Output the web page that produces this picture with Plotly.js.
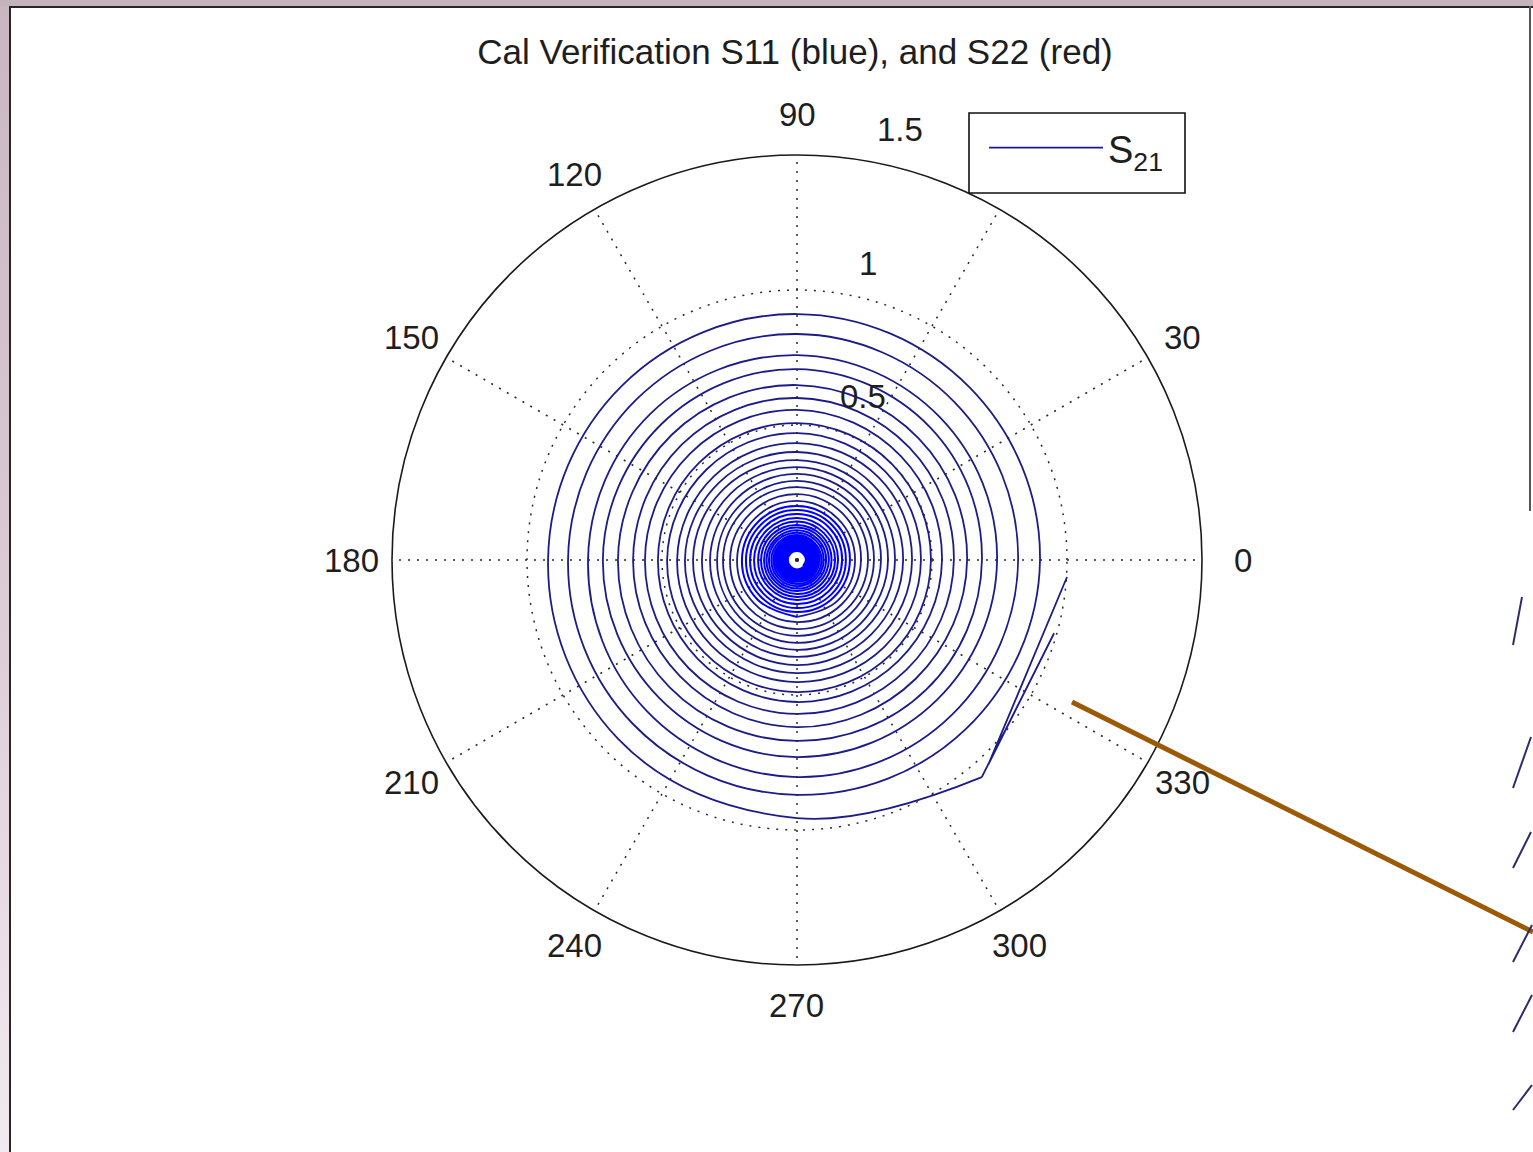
<!DOCTYPE html>
<html>
<head>
<meta charset="utf-8">
<script src="https://cdn.plot.ly/plotly-3.0.1.min.js"></script>
<style>
  html, body { margin: 0; padding: 0; width: 1533px; height: 1152px; overflow: hidden;
    background: linear-gradient(180deg, #c9b6c0 0%, #d9c8d1 45%, #f2eaee 100%); }
  #topstrip { position: absolute; left: 0; top: 0; width: 1533px; height: 6px; background: #c3b3bb; }
  #sheet { position: absolute; left: 9px; top: 6px; width: 1524px; height: 1146px; background: #ffffff;
    border-left: 2px solid #262626; border-top: 2px solid #262626; box-sizing: border-box; }
  #rightedge { position: absolute; left: 1529px; top: 6px; width: 2px; height: 505px; background: #555; }
  #chart { position: absolute; left: 0; top: 0; width: 1533px; height: 1152px; }
</style>
</head>
<body>
<div id="topstrip"></div>
<div id="sheet"></div>
<div id="rightedge"></div>
<div id="chart"></div>
<script>
// S21 sweep, linear magnitude. The first samples are coarse steps
// near |S21| = 1, then the sweep winds inward clockwise.
const leadMag   = [1.002, 1.038, 0.990, 1.056];
const leadPhase = [-3.6, -47.0, -15.9, -49.6];

// Outer turns: samples every 45 deg, the first at -90 deg.
const outerMag = [
  0.956, 0.937, 0.922, 0.915, 0.911, 0.904, 0.900, 0.885,
  0.870, 0.859, 0.848, 0.841, 0.837, 0.826, 0.819, 0.811,
  0.804, 0.789, 0.774, 0.767, 0.759, 0.748, 0.741, 0.733,
  0.730, 0.722, 0.719, 0.711, 0.707, 0.696, 0.685, 0.678,
  0.670, 0.667, 0.663, 0.656, 0.648, 0.637, 0.630, 0.622,
  0.619, 0.611, 0.607, 0.604, 0.600, 0.589, 0.581, 0.574,
  0.570, 0.567, 0.563, 0.559, 0.556, 0.544, 0.537, 0.530,
  0.526, 0.519, 0.515, 0.511, 0.507, 0.500, 0.496, 0.493,
  0.489, 0.485, 0.481, 0.474, 0.470, 0.463, 0.459, 0.456,
  0.452, 0.448, 0.444, 0.437, 0.433, 0.430, 0.426, 0.422,
  0.419, 0.415, 0.415, 0.407, 0.400, 0.396, 0.393, 0.389,
  0.389, 0.385, 0.385, 0.378, 0.370, 0.367, 0.363, 0.359,
  0.359, 0.356, 0.352, 0.348, 0.344, 0.341, 0.337, 0.333,
  0.333, 0.326, 0.322, 0.319, 0.319, 0.315, 0.311, 0.307,
  0.307, 0.300, 0.296, 0.293, 0.293, 0.289, 0.285, 0.281,
  0.281, 0.278, 0.274, 0.270, 0.270, 0.267, 0.263, 0.259,
  0.256, 0.252, 0.248, 0.244, 0.244, 0.241, 0.237, 0.233,
  0.230, 0.226, 0.222, 0.219, 0.219, 0.215, 0.215, 0.213
];
const outerStartPhase = -90;
const phaseStep = 45;

// Inner turns (dense core), continuing the same 45 deg sampling.
const coreMag = [
  0.211, 0.207, 0.204, 0.202, 0.200, 0.198, 0.196, 0.194,
  0.193, 0.191, 0.189, 0.187, 0.185, 0.183, 0.181, 0.180,
  0.178, 0.176, 0.174, 0.172, 0.170, 0.169, 0.167, 0.165,
  0.163, 0.161, 0.159, 0.157, 0.156, 0.154, 0.152, 0.150,
  0.148, 0.146, 0.144, 0.144, 0.143, 0.141, 0.141, 0.139,
  0.137, 0.135, 0.133, 0.132, 0.130, 0.129, 0.128, 0.127,
  0.126, 0.124, 0.122, 0.121, 0.120, 0.119, 0.118, 0.116,
  0.115, 0.114, 0.113, 0.111, 0.110, 0.109, 0.108, 0.107,
  0.106, 0.105, 0.104, 0.103, 0.101, 0.100, 0.099, 0.098,
  0.097, 0.096, 0.095, 0.094, 0.093, 0.091, 0.091, 0.090,
  0.089, 0.088, 0.087, 0.086, 0.085, 0.084, 0.083, 0.082,
  0.081, 0.080, 0.080, 0.079, 0.078, 0.077, 0.076, 0.076,
  0.075, 0.074, 0.073, 0.073, 0.072, 0.071, 0.070, 0.070,
  0.069, 0.068, 0.067, 0.067, 0.066, 0.065, 0.064, 0.064,
  0.063, 0.062, 0.061, 0.061, 0.060, 0.059, 0.059, 0.058,
  0.058, 0.057, 0.057, 0.056, 0.056, 0.055, 0.054, 0.054,
  0.053, 0.053, 0.052, 0.051, 0.051, 0.050, 0.050, 0.049,
  0.049, 0.048, 0.048, 0.047, 0.047, 0.046, 0.046, 0.045,
  0.044, 0.044, 0.043, 0.043, 0.042, 0.042, 0.041, 0.041,
  0.041, 0.040, 0.040, 0.040, 0.039, 0.039, 0.039, 0.038,
  0.038, 0.037, 0.037, 0.037, 0.036, 0.036, 0.036, 0.035,
  0.035, 0.034, 0.034, 0.034, 0.033, 0.033, 0.033, 0.032
];

// Polar grid
const angleTicks  = [0, 30, 60, 90, 120, 150, 180, 210, 240, 270, 300, 330];
const radialTicks = [0.5, 1, 1.5];
const radialMax = 1.5;
const radialLabelAngle = 82;

const titleText  = 'Cal Verification S11 (blue), and S22 (red)';
const legendText = 'S<sub>21</sub>';

const W = 1533, H = 1152;
const FONT = '"Liberation Sans", Arial, Helvetica, sans-serif';
const TXT = '#1e1e1e';
const NAVY = '#1c1c88';

// Polar disc placement (pixels)
const CX = 797, CY = 560, R = 405;
const px = (x) => x / W;
const py = (y) => 1 - y / H;

const outerPhase = outerMag.map((_, i) => outerStartPhase - phaseStep * i);
const coreStart = outerPhase[outerPhase.length - 1] - phaseStep;
const corePhase = coreMag.map((_, i) => coreStart - phaseStep * i);
const lastLead = leadMag.length - 1;

const traces = [
  // coarse lead-in steps, straight segments
  { type: 'scatterpolar', mode: 'lines', name: legendText, showlegend: true,
    r: leadMag, theta: leadPhase,
    line: { color: NAVY, width: 1.8 }, hoverinfo: 'skip' },
  // outer turns, smooth, continuing from the last lead-in sample
  { type: 'scatterpolar', mode: 'lines', showlegend: false,
    r: [leadMag[lastLead]].concat(outerMag, [coreMag[0]]),
    theta: [leadPhase[lastLead]].concat(outerPhase, [corePhase[0]]),
    line: { color: NAVY, width: 1.8, shape: 'spline', smoothing: 1.12 }, hoverinfo: 'skip' },
  // dense inner turns
  { type: 'scatterpolar', mode: 'lines', showlegend: false,
    r: coreMag, theta: corePhase,
    line: { color: '#0000ff', width: 2.0, shape: 'spline', smoothing: 1.12 }, hoverinfo: 'skip' }
];

// Legend frame
const legBox = { x0: 969, y0: 113, x1: 1185, y1: 193 };

function seg(x0, y0, x1, y1, color, width) {
  return { type: 'line', xref: 'paper', yref: 'paper', x0: px(x0), y0: py(y0), x1: px(x1), y1: py(y1),
           line: { color: color, width: width }, layer: 'above' };
}

const shapes = [
  { type: 'rect', xref: 'paper', yref: 'paper', layer: 'above',
    x0: px(legBox.x0), y0: py(legBox.y1), x1: px(legBox.x1), y1: py(legBox.y0),
    fillcolor: '#ffffff', line: { color: '#111111', width: 1.6 } },
  seg(1072, 702, 1533, 932, '#9a5a06', 5),
  seg(1522, 597, 1513, 645, '#2b2b6e', 2),
  seg(1531, 737, 1513, 788, '#2b2b6e', 2),
  seg(1531, 832, 1513, 868, '#2b2b6e', 2),
  seg(1532, 925, 1513, 962, '#2b2b6e', 2),
  seg(1532, 995, 1513, 1032, '#2b2b6e', 2),
  seg(1532, 1085, 1513, 1110, '#2b2b6e', 2)
];

// Angle labels centred on a circle 10% outside the rim; a label that
// falls under the legend frame stays hidden, as the frame covers it.
const annotations = [];
angleTicks.forEach((a) => {
  const t = a * Math.PI / 180;
  const x = CX + 1.1 * R * Math.cos(t), y = CY - 1.1 * R * Math.sin(t);
  const covered = x > legBox.x0 && x < legBox.x1 && y > legBox.y0 - 15 && y < legBox.y1 + 15;
  if (covered) return;
  annotations.push({ xref: 'paper', yref: 'paper', x: px(x), y: py(y), xanchor: 'center', yanchor: 'middle',
                     text: String(a), showarrow: false, font: { family: FONT, size: 33, color: TXT } });
});
// Radial magnitude labels along the 82 deg direction
radialTicks.forEach((v) => {
  const t = radialLabelAngle * Math.PI / 180;
  const rr = v / radialMax * R;
  annotations.push({ xref: 'paper', yref: 'paper', x: px(CX + rr * Math.cos(t)), y: py(CY - rr * Math.sin(t)),
                     xanchor: 'left', yanchor: 'bottom', xshift: 22, yshift: 9,
                     text: String(v), showarrow: false, font: { family: FONT, size: 33, color: TXT } });
});

const layout = {
  width: W, height: H,
  margin: { l: 0, r: 0, t: 0, b: 0 },
  paper_bgcolor: 'rgba(0,0,0,0)',
  font: { family: FONT, size: 33, color: TXT },
  title: { text: titleText, x: 795 / W, xref: 'paper', xanchor: 'center',
           y: py(52), yref: 'paper', yanchor: 'middle',
           font: { family: FONT, size: 35, color: TXT } },
  showlegend: true,
  legend: { x: px(984), y: py(148), xanchor: 'left', yanchor: 'middle',
            bgcolor: 'rgba(0,0,0,0)', borderwidth: 0,
            itemwidth: 114, font: { family: FONT, size: 38, color: TXT } },
  polar: {
    domain: { x: [px(CX - R), px(CX + R)], y: [py(CY + R), py(CY - R)] },
    bgcolor: '#ffffff',
    radialaxis: { range: [0, radialMax], tickvals: radialTicks, showticklabels: false, ticks: '',
                  showline: false, showgrid: true, gridcolor: '#2a2a2a', gridwidth: 1.5,
                  griddash: '2px,7px' },
    angularaxis: { tickvals: angleTicks, showticklabels: false, direction: 'counterclockwise',
                   rotation: 0, showline: true, linecolor: '#1a1a1a', linewidth: 1.6, ticks: '',
                   showgrid: true, gridcolor: '#2a2a2a', gridwidth: 1.5, griddash: '2px,7px' }
  },
  shapes: shapes,
  annotations: annotations
};

Plotly.newPlot('chart', traces, layout, { staticPlot: true, displayModeBar: false });
</script>
</body>
</html>
